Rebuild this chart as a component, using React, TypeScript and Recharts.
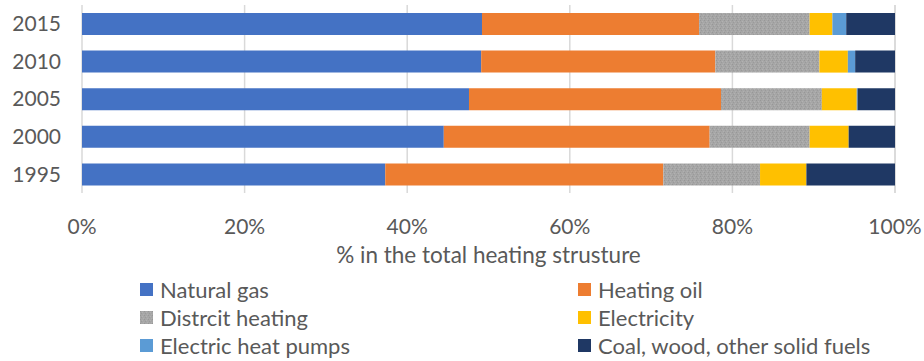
import React from 'react';
import { BarChart, Bar, XAxis, YAxis, CartesianGrid, Legend } from 'recharts';

// Heating structure by year, shares in percent (top row first)
const years = ['2015', '2010', '2005', '2000', '1995'];
const naturalGas = [49.2, 49.1, 47.6, 44.5, 37.3];
const heatingOil = [26.7, 28.8, 31.0, 32.7, 34.2];
const districtHeating = [13.6, 12.8, 12.4, 12.3, 11.9];
const electricity = [2.8, 3.5, 4.3, 4.8, 5.7];
const heatPumps = [1.7, 0.9, 0.1, 0, 0];
const solidFuels = [6.0, 4.9, 4.6, 5.7, 10.9];
const xTicks = [0, 20, 40, 60, 80, 100];

const SERIES = [
    { key: 'gas', name: 'Natural gas', values: naturalGas, fill: '#4472C4' },
    { key: 'oil', name: 'Heating oil', values: heatingOil, fill: '#ED7D31' },
    { key: 'district', name: 'Distrcit heating', values: districtHeating, fill: 'url(#districtHatch)' },
    { key: 'elec', name: 'Electricity', values: electricity, fill: '#FFC000' },
    { key: 'pumps', name: 'Electric heat pumps', values: heatPumps, fill: '#5B9BD5' },
    { key: 'solid', name: 'Coal, wood, other solid fuels', values: solidFuels, fill: '#1F3864' },
];

const data = years.map((year, i) => {
    const row: { [key: string]: string | number } = { year };
    SERIES.forEach((s) => {
        row[s.key] = s.values[i];
    });
    return row;
});

const TEXT_COLOR = '#595959';
const GRID_COLOR = '#d9d9d9';
const FONT = 'Lato, Carlito, Calibri, sans-serif';

// Two-column legend under the axis title
const LegendGrid = () => (
    <div style={{ position: 'relative', width: 924, height: 86, fontFamily: FONT }}>
        {SERIES.map((s, i) => {
            const col = i % 2;
            const row = Math.floor(i / 2);
            return (
                <div
                    key={s.key}
                    style={{
                        position: 'absolute',
                        left: col === 0 ? 140 : 578,
                        top: row * 28.2,
                        height: 28,
                        display: 'flex',
                        alignItems: 'center',
                        whiteSpace: 'nowrap',
                    }}
                >
                    <svg width={13} height={13} style={{ marginRight: 7 }}>
                        <rect width={13} height={13} fill={s.fill} />
                    </svg>
                    <span style={{ fontSize: 22, color: TEXT_COLOR }}>{s.name}</span>
                </div>
            );
        })}
    </div>
);

export default function App() {
    return (
        <div style={{ position: 'absolute', left: 0, top: 0, width: 924, height: 361, fontFamily: FONT }}>
            <BarChart
                width={924}
                height={361}
                data={data}
                layout="vertical"
                margin={{ top: 5, right: 29, bottom: 88, left: 0 }}
            >
                <defs>
                    <pattern id="districtHatch" width={4} height={4} patternUnits="userSpaceOnUse">
                        <rect width={4} height={4} fill="#a6a6a6" />
                        <rect x={0} y={0} width={1} height={1} fill="#979797" />
                        <rect x={2} y={1} width={1} height={1} fill="#b2b2b2" />
                        <rect x={1} y={2} width={1} height={1} fill="#9a9a9a" />
                        <rect x={3} y={3} width={1} height={1} fill="#b0b0b0" />
                    </pattern>
                </defs>
                <CartesianGrid horizontal={false} stroke={GRID_COLOR} strokeWidth={1.5} />
                <XAxis
                    type="number"
                    domain={[0, 100]}
                    ticks={xTicks}
                    tickFormatter={(v) => `${v}%`}
                    axisLine={false}
                    tickLine={false}
                    tickSize={0}
                    tickMargin={26}
                    height={80}
                    tick={{ fill: TEXT_COLOR, fontSize: 21, fontFamily: FONT }}
                    label={{
                        value: '% in the total heating strusture',
                        position: 'insideTop',
                        offset: 54,
                        fill: TEXT_COLOR,
                        fontSize: 22.5,
                        fontFamily: FONT,
                    }}
                />
                <YAxis
                    type="category"
                    dataKey="year"
                    width={82}
                    axisLine={false}
                    tickLine={false}
                    tickSize={0}
                    tickMargin={21}
                    tick={{ fill: TEXT_COLOR, fontSize: 21, fontFamily: FONT }}
                />
                {SERIES.map((s) => (
                    <Bar
                        key={s.key}
                        dataKey={s.key}
                        name={s.name}
                        stackId="share"
                        fill={s.fill}
                        barSize={22}
                        isAnimationActive={false}
                    />
                ))}
                <Legend
                    layout="horizontal"
                    verticalAlign="middle"
                    align="center"
                    content={() => <LegendGrid />}
                    wrapperStyle={{ top: 275, left: 0, width: 924 }}
                />
            </BarChart>
        </div>
    );
}
